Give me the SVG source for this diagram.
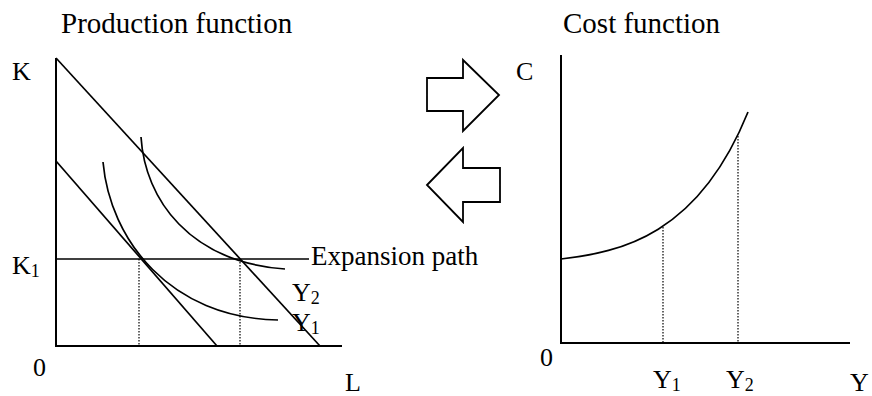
<svg xmlns="http://www.w3.org/2000/svg" width="872" height="396" viewBox="0 0 872 396">
<style>
text{font-family:"Liberation Serif","Times New Roman",serif;fill:#000;font-size:26px}
.title{font-size:29px}
.exp{font-size:27px}
.sub{font-size:18px}
.ax{stroke:#000;stroke-width:2;fill:none}
.ln{stroke:#000;stroke-width:1.7;fill:none}
.dot{stroke:#000;stroke-width:1.2;stroke-dasharray:1.5 1.5;fill:none}
.arrow{fill:#fff;stroke:#000;stroke-width:1.8;stroke-linejoin:miter}
</style>
<rect width="872" height="396" fill="#fff"/>
<g id="production-panel">
  <text class="title" x="61" y="33">Production function</text>
  <path class="ax" d="M56,58 V346 H342"/>
  <text x="12" y="80">K</text>
  <text x="12" y="274">K<tspan class="sub" dy="3">1</tspan></text>
  <text x="33" y="376">0</text>
  <text x="345" y="391">L</text>
</g>
<g id="cost-panel">
  <text class="title" x="563" y="33">Cost function</text>
  <path class="ax" d="M561,55 V343 H850"/>
  <text x="516" y="80">C</text>
  <text x="540" y="366">0</text>
  <text x="653" y="388">Y<tspan class="sub" dy="3">1</tspan></text>
  <text x="726" y="388">Y<tspan class="sub" dy="3">2</tspan></text>
  <text x="850" y="391">Y</text>
</g>
<g id="isocost-lines">
  <line class="ln" x1="56" y1="58" x2="320" y2="346"/>
  <line class="ln" x1="56" y1="161" x2="217" y2="346"/>
</g>
<g id="isoquant-Y1">
  <path class="ln" d="M103,162 C110,240 170,318 278,320"/>
  <text x="292" y="331">Y<tspan class="sub" dy="3">1</tspan></text>
</g>
<g id="isoquant-Y2">
  <path class="ln" d="M141,137 C145,200 190,262 285,269"/>
  <text x="292" y="301">Y<tspan class="sub" dy="3">2</tspan></text>
</g>
<g id="expansion-path">
  <line class="ln" x1="56" y1="259" x2="309" y2="259"/>
  <text class="exp" x="311" y="265">Expansion path</text>
</g>
<g id="cost-curve">
  <path class="ln" d="M561,259 C621,252 698,235.5 748,112"/>
</g>
<g id="connectors">
  <line class="dot" x1="139" y1="259" x2="139" y2="346"/>
  <line class="dot" x1="240" y1="259" x2="240" y2="346"/>
  <line class="dot" x1="663" y1="227" x2="663" y2="343"/>
  <line class="dot" x1="738" y1="136" x2="738" y2="343"/>
</g>
<g id="arrow-right">
  <polygon class="arrow" points="427,78 463,78 463,60 499,95 463,131 463,111 427,111"/>
</g>
<g id="arrow-left">
  <polygon class="arrow" points="427,185 463,148 463,168 500,168 500,202 463,202 463,222"/>
</g>
</svg>
